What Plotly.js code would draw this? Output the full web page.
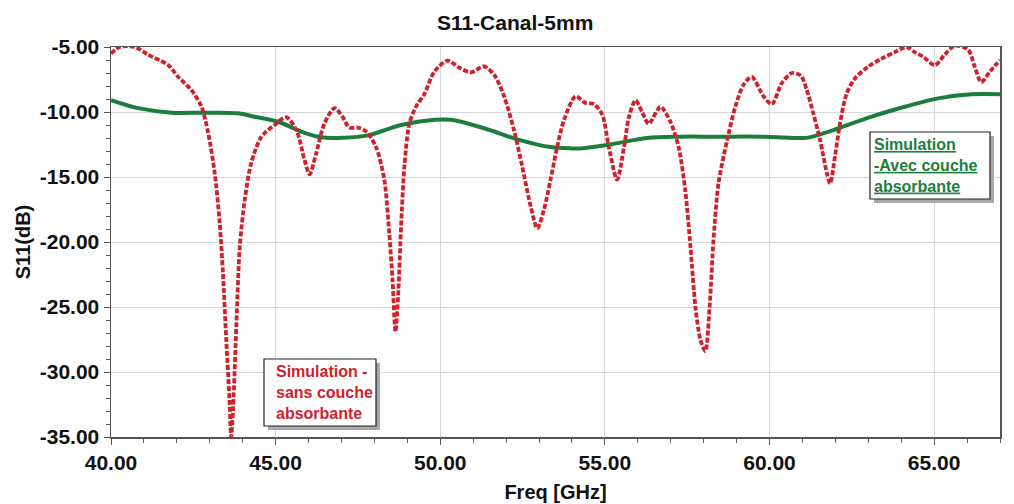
<!DOCTYPE html>
<html>
<head>
<meta charset="utf-8">
<script src="https://cdn.plot.ly/plotly-3.0.1.min.js"></script>
<style>html,body{margin:0;padding:0;background:#fff;}#chart{width:1014px;height:504px;}</style>
</head>
<body>
<div id="chart"></div>
<script>
// Red dotted series: Simulation - sans couche absorbante
const freqSans = [40.00,40.27,40.73,41.13,41.74,42.04,42.44,42.75,42.95,43.15,43.30,43.40,43.50,43.60,43.65,43.71,43.81,43.91,44.06,44.26,44.57,44.97,45.32,45.63,45.88,46.03,46.23,46.48,46.79,47.04,47.24,47.50,47.75,48.05,48.30,48.45,48.55,48.64,48.73,48.81,48.91,49.06,49.26,49.52,49.82,50.22,50.58,50.93,51.33,51.64,51.94,52.24,52.49,52.75,52.95,53.15,53.35,53.55,53.76,54.11,54.41,54.67,54.92,55.12,55.37,55.58,55.73,55.93,56.13,56.33,56.69,56.99,57.24,57.44,57.60,57.75,57.90,58.05,58.18,58.30,58.45,58.71,58.96,59.21,59.46,59.82,60.07,60.37,60.68,60.95,61.13,61.33,61.54,61.74,61.84,61.99,62.14,62.34,62.60,63.00,63.40,63.80,64.16,64.41,64.67,65.02,65.32,65.63,66.03,66.23,66.43,66.69,67.00];
const s11Sans = [-5.5,-5.0,-5.0,-5.6,-6.4,-7.3,-8.3,-9.6,-11.6,-14.7,-18.5,-22.4,-27.5,-32.2,-35.0,-32.7,-26.2,-20.4,-16.8,-13.9,-11.9,-11.0,-10.4,-11.4,-13.7,-14.8,-13.2,-10.9,-9.7,-10.4,-11.2,-11.2,-11.5,-12.7,-15.2,-19.3,-22.9,-26.9,-23.7,-18.8,-14.2,-10.9,-9.6,-8.6,-6.9,-6.05,-6.6,-6.95,-6.5,-7.15,-8.8,-11.4,-14.2,-17.3,-18.95,-17.5,-15.2,-12.7,-10.6,-8.8,-9.3,-9.4,-10.2,-12.7,-15.2,-12.7,-10.4,-9.1,-10.0,-10.9,-9.6,-10.75,-12.7,-16.0,-20.4,-25.0,-27.5,-28.4,-25.0,-19.8,-15.5,-12.2,-9.6,-7.9,-7.3,-8.8,-9.4,-7.8,-7.0,-7.2,-8.3,-10.1,-12.2,-14.7,-15.5,-13.4,-10.9,-8.6,-7.4,-6.5,-5.9,-5.4,-5.0,-5.4,-5.75,-6.4,-5.6,-4.9,-5.2,-6.5,-7.7,-6.9,-6.0];

// Green solid series: Simulation - Avec couche absorbante
const freqAvec = [40.00,40.83,41.84,42.85,43.86,44.36,45.07,45.88,46.38,47.04,47.80,48.81,49.82,50.32,51.33,52.34,53.35,54.00,54.26,55.27,56.28,57.29,58.30,59.82,60.98,61.20,62.10,63.10,64.11,65.12,66.13,67.00];
const s11Avec = [-9.08,-9.7,-10.05,-10.05,-10.1,-10.36,-10.75,-11.6,-11.95,-11.98,-11.8,-11.0,-10.6,-10.6,-11.25,-12.1,-12.7,-12.8,-12.8,-12.45,-12.0,-11.9,-11.9,-11.9,-12.0,-11.95,-11.25,-10.36,-9.6,-8.95,-8.64,-8.64];

// Tick labels
const xTickVals = [40,45,50,55,60,65];
const xTickText = ["40.00","45.00","50.00","55.00","60.00","65.00"];
const yTickVals = [-35,-30,-25,-20,-15,-10,-5];
const yTickText = ["-35.00","-30.00","-25.00","-20.00","-15.00","-10.00","-5.00"];

const labelSans = "Simulation -<br>sans couche<br>absorbante";
const labelAvec = "<u>Simulation</u><br><u>-Avec couche</u><br><u>absorbante</u>";

const RED = "#d0222b";
const GREEN = "#1c7d3c";
const FONT = "Liberation Sans, Arial, sans-serif";

const traces = [
  {x: freqAvec, y: s11Avec, type: "scatter", mode: "lines",
   line: {color: GREEN, width: 4, shape: "spline"}, hoverinfo: "skip"},
  {x: freqSans, y: s11Sans, type: "scatter", mode: "lines",
   line: {color: RED, width: 3.8, dash: "5px,2px", shape: "spline", smoothing: 0.8}, hoverinfo: "skip"}
];

// helper to convert pixel positions to paper coords (plot area 111..1000 x 47..437)
function px(v){ return (v - 111) / 889; }
function py(v){ return (437 - v) / 390; }

const layout = {
  width: 1014, height: 504,
  margin: {l: 111, r: 14, t: 47, b: 67},
  paper_bgcolor: "#ffffff", plot_bgcolor: "#ffffff",
  showlegend: false,
  font: {family: FONT, color: "#000"},
  title: {text: "<b>S11-Canal-5mm</b>", font: {family: FONT, size: 21, color: "#111"},
          x: 0.508, xanchor: "center", y: 0.955, yanchor: "middle"},
  xaxis: {
    range: [40, 67], tickmode: "array", tickvals: xTickVals, ticktext: xTickText,
    tickfont: {family: FONT, size: 21, color: "#111", weight: "bold"},
    ticks: "outside", ticklen: 6, tickcolor: "#555", tickwidth: 1,
    showgrid: true, gridcolor: "#d6d6d6", gridwidth: 1,
    showline: true, linecolor: "#555", linewidth: 1.5, mirror: true,
    zeroline: false,
    minor: {dtick: 1, tick0: 40, ticks: "outside", ticklen: 4, tickcolor: "#666", showgrid: false},
    title: {text: "<b>Freq [GHz]</b>", font: {family: FONT, size: 20, color: "#111"}, standoff: 12},
    automargin: false
  },
  yaxis: {
    range: [-35, -5], tickmode: "array", tickvals: yTickVals, ticktext: yTickText,
    tickfont: {family: FONT, size: 21, color: "#111", weight: "bold"},
    ticks: "outside", ticklen: 6, tickcolor: "#555", tickwidth: 1,
    showgrid: true, gridcolor: "#d6d6d6", gridwidth: 1,
    showline: true, linecolor: "#555", linewidth: 1.5, mirror: true,
    zeroline: false,
    minor: {dtick: 1, tick0: -35, ticks: "outside", ticklen: 4, tickcolor: "#666", showgrid: false},
    title: {text: "<b>S11(dB)</b>", font: {family: FONT, size: 20, color: "#111"}, standoff: 4},
    automargin: false
  },
  shapes: [
    // red label box shadow + box
    {type: "rect", xref: "paper", yref: "paper", x0: px(268), x1: px(380), y0: py(430), y1: py(363),
     fillcolor: "#a9a9a9", line: {width: 0}, layer: "above"},
    {type: "rect", xref: "paper", yref: "paper", x0: px(264), x1: px(376), y0: py(426), y1: py(359),
     fillcolor: "#ffffff", line: {color: "#222", width: 1.2}, layer: "above"},
    // green label box shadow + box
    {type: "rect", xref: "paper", yref: "paper", x0: px(874), x1: px(994), y0: py(203), y1: py(136),
     fillcolor: "#a9a9a9", line: {width: 0}, layer: "above"},
    {type: "rect", xref: "paper", yref: "paper", x0: px(870), x1: px(990), y0: py(199), y1: py(132),
     fillcolor: "#ffffff", line: {color: "#222", width: 1.2}, layer: "above"}
  ],
  annotations: [
    {xref: "paper", yref: "paper", x: px(274), y: py(392.5), xanchor: "left", yanchor: "middle",
     text: "<b>" + labelSans + "</b>", showarrow: false, align: "left",
     font: {family: FONT, size: 16, color: RED}},
    {xref: "paper", yref: "paper", x: px(872), y: py(165.5), xanchor: "left", yanchor: "middle",
     text: "<b>" + labelAvec + "</b>", showarrow: false, align: "left",
     font: {family: FONT, size: 16, color: GREEN}}
  ]
};

Plotly.newPlot("chart", traces, layout, {displayModeBar: false, staticPlot: true});
</script>
</body>
</html>
